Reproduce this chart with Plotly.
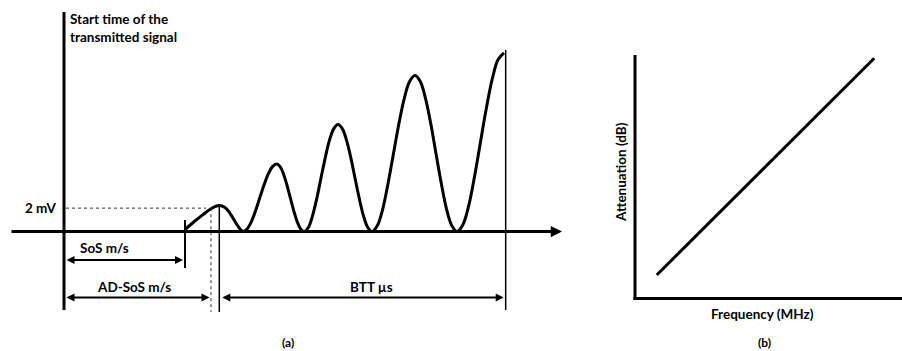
import plotly.graph_objects as go

# ---- data ----
# (a) received waveform: time (arbitrary µs units) vs amplitude (mV)
wave_t = [12.1, 13.0, 13.9, 14.7, 15.5, 16.1, 16.6, 17.4, 17.9,
          18.32, 18.74, 19.16, 19.58, 20.01, 20.43, 20.85, 21.27,
          21.61, 21.95, 22.29, 22.63, 22.98, 23.32, 23.66, 24.0,
          24.43, 24.85, 25.28, 25.7, 26.13, 26.55, 26.98, 27.4,
          27.83, 28.25, 28.68, 29.1, 29.53, 29.95, 30.38, 30.8,
          31.34, 31.88, 32.41, 32.95, 33.49, 34.03, 34.56, 35.1,
          35.63, 36.15, 36.68, 37.2, 37.73, 38.25, 38.78, 39.3,
          39.89, 40.48, 41.06, 41.65, 42.24, 42.83, 43.41, 44.0]
wave_mv = [0.15, 0.75, 1.3, 1.75, 2.0, 1.85, 1.4, 0.42, 0.0,
           0.2, 0.76, 1.6, 2.6, 3.59, 4.43, 4.99, 5.19,
           4.99, 4.43, 3.59, 2.6, 1.6, 0.76, 0.2, 0.0,
           0.31, 1.2, 2.54, 4.12, 5.69, 7.03, 7.92, 8.23,
           7.92, 7.03, 5.69, 4.12, 2.54, 1.2, 0.31, 0.0,
           0.46, 1.75, 3.71, 6.0, 8.29, 10.25, 11.54, 12.0,
           11.54, 10.25, 8.29, 6.0, 3.71, 1.75, 0.46, 0.0,
           0.52, 2.01, 4.25, 6.88, 9.5, 11.74, 13.23, 13.75]
sos_t = 12.0        # end of SoS interval
adsos_t = 14.6      # end of AD-SoS interval (dotted marker)
first_peak_t = 15.53
btt_end_t = 44.17
level_2mv = 1.8     # dotted 2 mV reference level as drawn

# (b) attenuation vs frequency
freq = [0.87, 9.57]
atten = [0.94, 9.61]

labels_a = ["Start time of the<br>transmitted signal", "2 mV", "SoS m/s", "AD-SoS m/s", "BTT µs"]

FONT = "Lato"
BLACK = "#000000"
FS = 13.5

fig = go.Figure()

fig.add_trace(go.Scatter(x=wave_t, y=wave_mv, mode="lines",
                         line=dict(color=BLACK, width=3, shape="spline", smoothing=1),
                         xaxis="x", yaxis="y", hoverinfo="skip", showlegend=False))
fig.add_trace(go.Scatter(x=freq, y=atten, mode="lines",
                         line=dict(color=BLACK, width=3),
                         xaxis="x2", yaxis="y2", hoverinfo="skip", showlegend=False))

shapes = []
def seg(x0, y0, x1, y1, w, dash=None, ax="", color=BLACK):
    d = dict(type="line", x0=x0, y0=y0, x1=x1, y1=y1,
             xref="x" + ax, yref="y" + ax, line=dict(color=color, width=w))
    if dash:
        d["line"]["dash"] = dash
    shapes.append(d)

# panel (a) axes and markers
seg(0, 16.88, 0, -6.04, 3)                      # vertical axis
seg(0.2, level_2mv, 14.2, level_2mv, 1, "dot", color="#333")   # 2 mV dotted
seg(sos_t + 0.1, 0.88, sos_t + 0.1, -2.81, 2)   # SoS tick
seg(adsos_t + 0.1, level_2mv, adsos_t + 0.1, -6.19, 1, "dot", color="#333")
seg(first_peak_t, 2.0, first_peak_t, -6.19, 1.5)
seg(btt_end_t, 13.96, btt_end_t, -6.04, 1.5)

# panel (b) axes
seg(0, 9.74, 0, -0.06, 3, ax="2")
seg(-0.06, 0, 10.7, 0, 3, ax="2")

annotations = []
# horizontal axis with arrow
annotations.append(dict(x=49.8, y=0, ax=-5.4, ay=0, xref="x", yref="y", axref="x", ayref="y",
                        text="", showarrow=True, arrowhead=2, arrowsize=0.75, arrowwidth=3,
                        arrowcolor=BLACK))
# dimension arrows
for (xa, xb, yv) in [(0.1, sos_t - 0.1, -2.19), (0.1, adsos_t - 0.05, -5.08),
                     (first_peak_t + 0.15, btt_end_t - 0.2, -5.08)]:
    annotations.append(dict(x=xb, y=yv, ax=xa, ay=yv, xref="x", yref="y", axref="x", ayref="y",
                            text="", showarrow=True, arrowhead=2, arrowsize=0.8, arrowwidth=2,
                            arrowside="end+start", arrowcolor=BLACK))

def txt(text, x, y, ax="", xanchor="center", yanchor="middle", align="center", angle=0, size=FS):
    annotations.append(dict(text="<b>" + text.replace("<br>", "</b><br><b>") + "</b>",
                            x=x, y=y, xref="x" + ax, yref="y" + ax,
                            showarrow=False, xanchor=xanchor, yanchor=yanchor, align=align,
                            textangle=angle, font=dict(family=FONT, size=size, color=BLACK)))

txt(labels_a[0], 0.4, 17.15, xanchor="left", yanchor="top", align="left")
txt(labels_a[1], -0.65, level_2mv, xanchor="right")
txt(labels_a[2], 4.05, -1.29)
txt(labels_a[3], 7.0, -4.29)
txt(labels_a[4], 30.8, -4.25)
txt("(a)", 22.4, -8.5, size=12)

txt("Attenuation (dB)", -0.56, 5.06, ax="2", angle=-90)
txt("Frequency (MHz)", 5.08, -0.6, ax="2")
txt("(b)", 5.16, -1.74, ax="2", size=12)

fig.update_layout(
    width=902, height=351,
    margin=dict(l=0, r=0, t=0, b=0),
    paper_bgcolor="white", plot_bgcolor="white",
    xaxis=dict(domain=[0, 0.64], range=[-6.4, 51.33], visible=False, fixedrange=True),
    yaxis=dict(domain=[0, 1], range=[-9.19, 17.81], visible=False, fixedrange=True),
    xaxis2=dict(domain=[0.66, 1], range=[-1.587, 10.68], visible=False, anchor="y2", fixedrange=True),
    yaxis2=dict(domain=[0, 1], range=[-2.1, 11.94], visible=False, anchor="x2", fixedrange=True),
    shapes=shapes,
    annotations=annotations,
    showlegend=False,
)

fig.write_html("out.html")
